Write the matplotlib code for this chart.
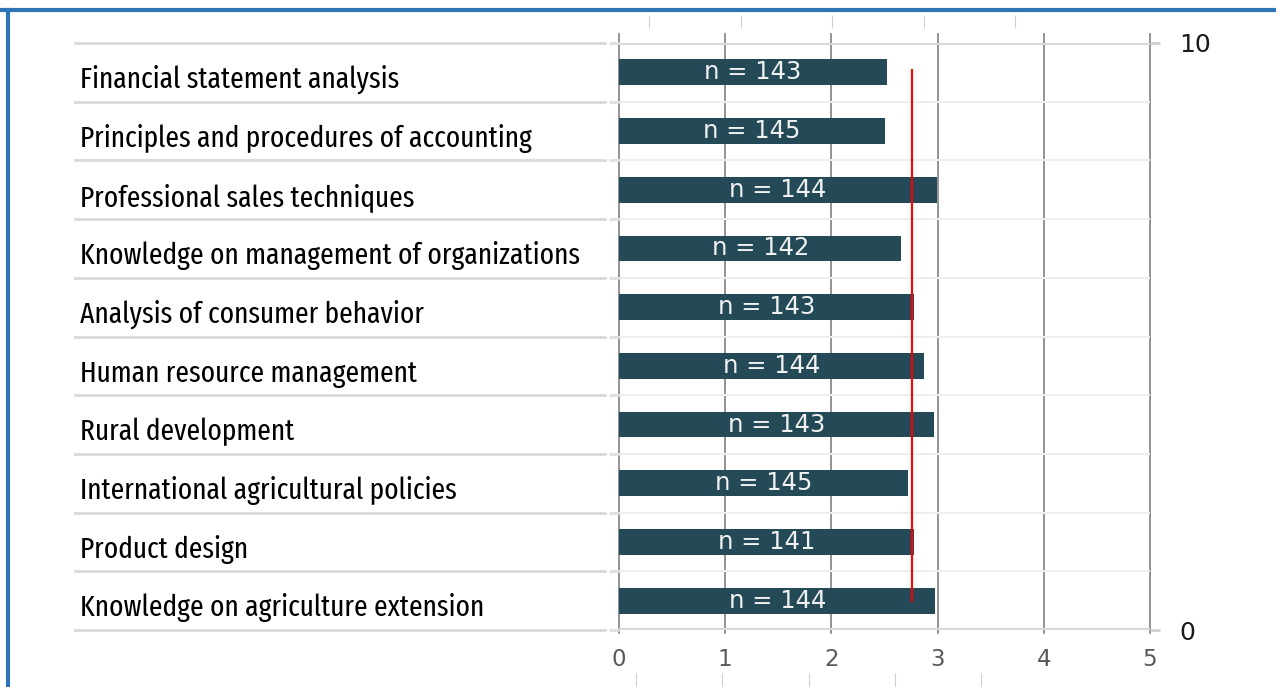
import numpy as np
import matplotlib.pyplot as plt
from matplotlib import font_manager
from matplotlib.lines import Line2D
import matplotlib.transforms as mtransforms

# data (top row first)
categories = [
    "Financial statement analysis",
    "Principles and procedures of accounting",
    "Professional sales techniques",
    "Knowledge on management of organizations",
    "Analysis of consumer behavior",
    "Human resource management",
    "Rural development",
    "International agricultural policies",
    "Product design",
    "Knowledge on agriculture extension",
]
means = [2.52, 2.50, 2.99, 2.66, 2.78, 2.87, 2.97, 2.72, 2.78, 2.98]
n_resp = [143, 145, 144, 142, 143, 144, 143, 145, 141, 144]
overall_mean = 2.76
x_ticks = [0, 1, 2, 3, 4, 5]
right_ticks = [0, 10]

W, H = 1276, 687
DPI = 100

# pick a condensed humanist face for the category labels (Calibri look-alike)
names = {f.name for f in font_manager.fontManager.ttflist}
label_font = "Open Sans"
for cand in ["Fira Sans Extra Condensed", "Fira Sans Condensed", "Asap Condensed",
             "Encode Sans Condensed", "Barlow Condensed", "Open Sans Condensed",
             "PT Sans Narrow", "Roboto Condensed"]:
    if cand in names:
        label_font = cand
        break
num_font = "DejaVu Sans"

fig = plt.figure(figsize=(W / DPI, H / DPI), dpi=DPI)
fig.patch.set_facecolor("white")

def px(x0, y0, x1, y1):
    # pixel box -> figure fraction [left, bottom, width, height]
    return [x0 / W, 1 - y1 / H, (x1 - x0) / W, (y1 - y0) / H]

ax = fig.add_axes(px(619, 43, 1150, 630))
n = len(categories)
ypos = np.arange(n)[::-1] + 0.5

ax.set_xlim(0, 5)
ax.set_ylim(0, 10)
for s in ax.spines.values():
    s.set_visible(False)

# gridlines
for x in x_ticks:
    ax.plot([x, x], [-0.05, 10.15], color="#808080", lw=1.2, zorder=1, clip_on=False)
for b in range(n + 1):
    if b in (0, n):
        ax.axhline(b, color="#d9d9d9", lw=3, zorder=1)
    else:
        ax.axhline(b, color="#eeeeee", lw=1.5, zorder=1)

ax.barh(ypos, means, height=0.44, color="#244A57", zorder=2)
for y, m, c in zip(ypos, means, n_resp):
    ax.text(m / 2, y, f"n = {c}", color="#f2f2f2", ha="center", va="center",
            fontsize=17.5, family=num_font, zorder=3)

ax.plot([overall_mean, overall_mean], [ypos[-1], ypos[0] + 0.04], color="red", lw=1.5, zorder=4)

ax.set_xticks(x_ticks)
ax.set_xticklabels([str(t) for t in x_ticks], color="#595959", fontsize=16.5, family=num_font)
ax.tick_params(axis="x", length=0, pad=13)
ax.set_yticks(range(n + 1))
ax.set_yticklabels([])
ax.tick_params(axis="y", length=7, width=2, color="#e0e0e0")

ax2 = ax.twinx()
ax2.set_ylim(0, 10)
for s in ax2.spines.values():
    s.set_visible(False)
ax2.set_yticks(right_ticks)
ax2.set_yticklabels([str(t) for t in right_ticks], fontsize=18, family=num_font, color="#1a1a1a")
ax2.tick_params(axis="y", length=7, width=2, color="#d0d0d0", pad=14)

# category labels in a ruled table on the left
trans = mtransforms.blended_transform_factory(fig.transFigure, ax.transData)
labels = []
for y, lab in zip(ypos, categories):
    t = ax.text(80 / W, y - 0.27, lab, transform=trans, ha="left", va="baseline",
                fontsize=20, family=label_font, color="black", clip_on=False)
    labels.append(t)
# scale the label size so the first label spans the same width as in the reference
fig.canvas.draw()
r = fig.canvas.get_renderer()
w0 = labels[0].get_window_extent(r).width
size = 20 * 320 / w0
for t in labels:
    t.set_fontsize(size)

for b in range(n + 1):
    ax.add_line(Line2D([75 / W, 605 / W], [b, b], transform=trans, color="#d9d9d9",
                       lw=2, clip_on=False))

# stray tick marks above and below
top = fig.add_axes(px(649, 28, 1015, 29))
top.set_xlim(1, 5)
top.set_xticks([1, 2, 3, 4, 5])
top.xaxis.tick_top()
top.tick_params(axis="x", length=9.5, color="#d0d0d0", labeltop=False, labelbottom=False)
top.set_yticks([])
top.patch.set_visible(False)
for s in top.spines.values():
    s.set_visible(False)

bot = fig.add_axes(px(636, 672, 981, 673))
bot.set_xlim(1, 5)
bot.set_xticks([1, 2, 3, 4, 5])
bot.tick_params(axis="x", length=10, color="#d0d0d0", labelbottom=False)
bot.set_yticks([])
bot.patch.set_visible(False)
for s in bot.spines.values():
    s.set_visible(False)

# blue frame (top and left)
fig.add_artist(Line2D([0, 1], [1 - 10 / H, 1 - 10 / H], color="#2E75B6", lw=3, transform=fig.transFigure))
fig.add_artist(Line2D([8 / W, 8 / W], [0, 1 - 10 / H], color="#2E75B6", lw=3, transform=fig.transFigure))

fig.savefig("out.png", dpi=DPI)
